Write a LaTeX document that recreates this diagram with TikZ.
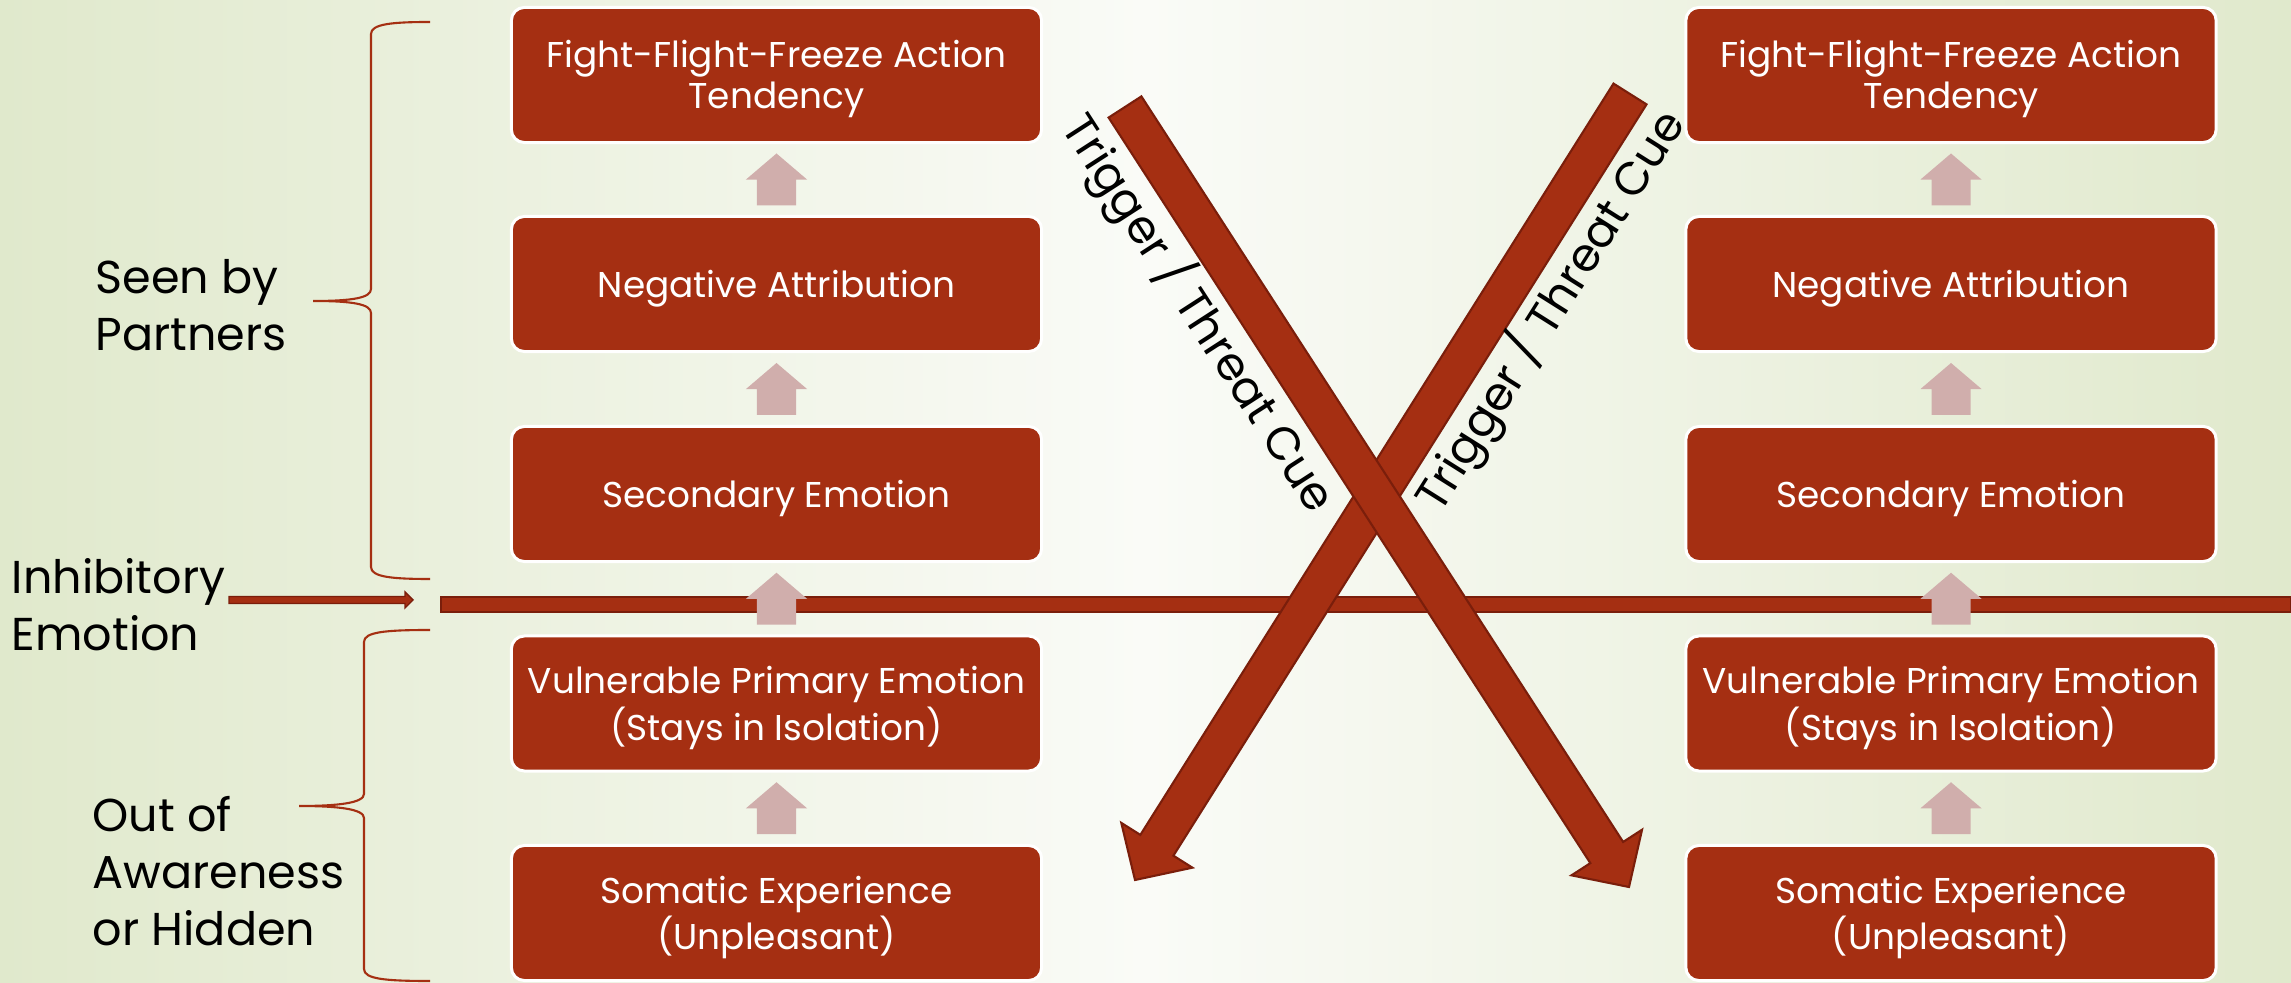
\documentclass[tikz,border=0pt]{standalone}
\usepackage{fontspec}
\setmainfont{Poppins}
\usetikzlibrary{calc}

\definecolor{boxred}{RGB}{165,47,18}
\definecolor{edgered}{RGB}{122,30,11}
\definecolor{uppink}{RGB}{208,174,172}
\definecolor{bggreen}{RGB}{224,233,204}
\definecolor{bgwhite}{RGB}{250,251,247}

% block arrow: [style]{tail}{tip}{half shaft}{half head}{head length}
\newcommand{\blockarrow}[6][]{%
  \coordinate (ba-h) at ($(#3)!#6!(#2)$);
  \filldraw[#1] ($(#2)!#4!90:(#3)$) -- ($(ba-h)!#4!-90:(#2)$) -- ($(ba-h)!#5!-90:(#2)$) -- (#3)
    -- ($(ba-h)!#5!90:(#2)$) -- ($(ba-h)!#4!90:(#2)$) -- ($(#2)!#4!-90:(#3)$) -- cycle;}

\tikzset{
  stepbox/.style={draw=white, line width=0.85pt, fill=boxred, rounded corners=0.13cm,
    minimum width=5.3cm, minimum height=1.35cm, inner sep=0pt},
  steptext/.style={text=white, align=center, inner sep=0pt, yshift=-0.044cm,
    font=\fontsize{10.2}{11.7}\selectfont},
  sidelabel/.style={align=left, anchor=west, inner sep=0pt, font=\fontsize{13.1}{16.2}\selectfont},
  brace/.style={draw=boxred, line width=0.6pt},
  bigarrow/.style={fill=boxred, draw=edgered, line width=0.6pt},
  smallarrow/.style={fill=uppink, draw=none},
  cue/.style={inner sep=0pt, font=\fontsize{13.1}{16.2}\selectfont},
}

\begin{document}
\begin{tikzpicture}[x=0.01cm, y=-0.01cm]
  \shade[left color=bggreen, right color=bggreen, middle color=bgwhite] (0,0) rectangle (2291,983);
  \useasboundingbox (0,0) rectangle (2291,983);

  % braces
  \draw[brace] (430,22) .. controls (392,22) and (371,24) .. (371,34) -- (371,289)
    .. controls (371,298) and (352,301) .. (313,301) .. controls (352,301) and (371,304) .. (371,313)
    -- (371,567) .. controls (371,577) and (392,579) .. (430,579);
  \draw[brace] (430,630) .. controls (385,630) and (364,632) .. (364,642) -- (364,794)
    .. controls (364,803) and (338,806) .. (299,806) .. controls (338,806) and (364,809) .. (364,818)
    -- (364,969) .. controls (364,979) and (385,981) .. (430,981);

  \node[sidelabel] (seen) at (95,305) {Seen by\\Partners};
  \node[sidelabel] (inhib) at (11,605) {Inhibitory\\Emotion};
  \node[sidelabel] (hidden) at (92,871) {Out of\\Awareness\\or Hidden};

  % divider
  \coordinate (divl) at (441,597);
  \coordinate (divr) at (2291,612);
  \filldraw[bigarrow] (divl) rectangle (divr);

  \foreach \c/\x in {l/776.5, r/1951}{
    \node[stepbox] (\c1) at (\x,75) {};
    \node[stepbox] (\c2) at (\x,284) {};
    \node[stepbox] (\c3) at (\x,494) {};
    \node[stepbox] (\c4) at (\x,703.5) {};
    \node[stepbox] (\c5) at (\x,913) {};
    \node[steptext] (\c1t) at (\c1) {Fight-Flight-Freeze Action\\Tendency};
    \node[steptext] (\c2t) at (\c2) {Negative Attribution};
    \node[steptext] (\c3t) at (\c3) {Secondary Emotion};
    \node[steptext] (\c4t) at (\c4) {Vulnerable Primary Emotion\\(Stays in Isolation)};
    \node[steptext] (\c5t) at (\c5) {Somatic Experience\\(Unpleasant)};
    \foreach \a/\b in {1/2,2/3,3/4,4/5}{
      \coordinate (m) at ($(\c\a.south)!.5!(\c\b.north)$);
      \coordinate (s) at ($(m)+(0,26)$);
      \coordinate (t) at ($(m)+(0,-26)$);
      \blockarrow[smallarrow]{s}{t}{0.195cm}{0.305cm}{0.26cm}
    }
  }

  \coordinate (inhs) at (229,600);
  \coordinate (inhe) at (413,600);
  \blockarrow[bigarrow, line width=0.4pt]{inhs}{inhe}{0.035cm}{0.08cm}{0.08cm}

  % trigger arrows
  \coordinate (tb) at (1630,94);
  \coordinate (tipb) at (1135,880);
  \coordinate (ta) at (1125,107);
  \coordinate (tipa) at (1629,887);
  \blockarrow[bigarrow]{tb}{tipb}{0.195cm}{0.42cm}{0.41cm}
  \blockarrow[bigarrow]{ta}{tipa}{0.195cm}{0.42cm}{0.41cm}
  \coordinate (ca) at ($(ta)!0.23!(tipa)$);
  \coordinate (cb) at ($(tb)!0.243!(tipb)$);
  \node[cue, rotate=-57.13] (cuea) at ($(ca)!0.5cm!-90:(tipa)$) {Trigger / Threat Cue};
  \node[cue, rotate=57.8] (cueb) at ($(cb)!0.48cm!90:(tipb)$) {Trigger / Threat Cue};
\end{tikzpicture}
\end{document}
